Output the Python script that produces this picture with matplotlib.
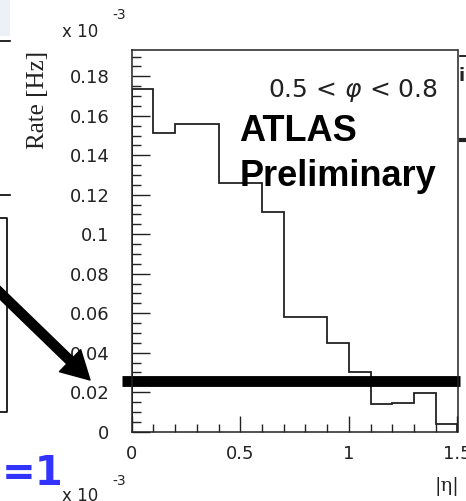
import matplotlib
matplotlib.use("Agg")
import matplotlib.pyplot as plt
from matplotlib.lines import Line2D
from matplotlib.patches import Rectangle
from matplotlib.ticker import MultipleLocator

# rate per |eta| bin, in units of 1e-3 Hz
eta_edges = [0.0, 0.1, 0.2, 0.3, 0.4, 0.5, 0.6, 0.7, 0.8, 0.9, 1.0, 1.1, 1.2, 1.3, 1.4, 1.5]
rate = [0.1734, 0.1511, 0.1558, 0.1558, 0.1258, 0.1258, 0.1113, 0.0583, 0.0583,
        0.0448, 0.0302, 0.0142, 0.0145, 0.0195, 0.0040]
threshold = 0.0257
xticks = [0, 0.5, 1, 1.5]
xticklabels = ["0", "0.5", "1", "1.5"]
yticks = [0, 0.02, 0.04, 0.06, 0.08, 0.1, 0.12, 0.14, 0.16, 0.18]
yticklabels = ["0", "0.02", "0.04", "0.06", "0.08", "0.1", "0.12", "0.14", "0.16", "0.18"]

W, H = 466, 501


def fx(px):
    return px / W


def fy(py):
    return 1 - py / H


fig = plt.figure(figsize=(W / 100, H / 100), dpi=100)
ax = fig.add_axes([fx(131.7), fy(431.7), (457.5 - 131.7) / W, (431.7 - 50) / H])

ax.stairs(rate, eta_edges, color="#222222", lw=1.3)

ax.set_xlim(0, 1.5)
ax.set_ylim(0, 0.1933)
ax.set_xticks(xticks)
ax.set_xticklabels(xticklabels)
ax.set_yticks(yticks)
ax.set_yticklabels(yticklabels)
ax.xaxis.set_minor_locator(MultipleLocator(0.1))
ax.yaxis.set_minor_locator(MultipleLocator(0.005))
ax.tick_params(axis="both", which="both", direction="in", width=1.0, color="#222222",
               labelsize=13, labelcolor="#222222")
ax.tick_params(axis="x", which="major", length=11.5, pad=9.5)
ax.tick_params(axis="x", which="minor", length=5.8)
ax.tick_params(axis="y", which="major", length=13, pad=16)
ax.tick_params(axis="y", which="minor", length=6.5)
for s in ax.spines.values():
    s.set_linewidth(1.1)
    s.set_color("#222222")

# thick threshold line
ax.plot([-0.046, 1.51], [threshold, threshold], color="black", lw=7.8,
        solid_capstyle="butt", clip_on=False)

# texts inside the pad
fig.text(fx(268), fy(97), "0.5 < $\\varphi$ < 0.8", fontsize=18, color="#222222",
         va="baseline", ha="left")
fig.text(fx(239), fy(141), "ATLAS", fontsize=26, fontweight="bold",
         family="Liberation Sans", va="baseline", ha="left")
fig.text(fx(240), fy(186), "Preliminary", fontsize=26, fontweight="bold",
         family="Liberation Sans", va="baseline", ha="left")

# axis titles / exponent
fig.text(fx(38), fy(100), "Rate [Hz]", rotation=90, fontsize=18, family="Liberation Serif",
         ha="center", va="center", color="#222222")
fig.text(fx(62), fy(37), "x 10", fontsize=12, ha="left", va="baseline", color="#222222")
fig.text(fx(112), fy(19), "-3", fontsize=10, ha="left", va="baseline", color="#222222")
fig.text(fx(62), fy(501), "x 10", fontsize=12, ha="left", va="baseline", color="#222222")
fig.text(fx(112), fy(485), "-3", fontsize=10, ha="left", va="baseline", color="#222222")
fig.text(fx(447), fy(487), "|η|", fontsize=14, family="DejaVu Serif", ha="center",
         va="center", color="#222222")

# blue "=1" from the neighbouring slide text
fig.text(fx(64), fy(485), "=1", fontsize=29, fontweight="bold", family="DejaVu Sans",
         color="#3333ff", ha="right", va="baseline")

# pieces of neighbouring boxes at the left edge
lk = dict(color="black", lw=1.2, transform=fig.transFigure)
fig.add_artist(Line2D([fx(0), fx(10)], [fy(40.7), fy(40.7)], **lk))
fig.add_artist(Line2D([fx(0), fx(10)], [fy(195), fy(195)], **lk))
fig.add_artist(Line2D([fx(0), fx(7.3), fx(7.3), fx(0)],
                      [fy(218), fy(218), fy(411.7), fy(411.7)], **lk))
fig.add_artist(Rectangle((0, fy(36)), fx(10), 1 - fy(36), transform=fig.transFigure,
                         color="#eef0f8", lw=0))

# glyph pieces of the neighbouring panel at the right edge
fig.add_artist(Line2D([fx(460), fx(466)], [fy(56), fy(56)], **lk))
fig.text(fx(459), fy(81), "i", fontsize=13, fontweight="bold", ha="left",
         va="baseline", color="#222222")
fig.add_artist(Line2D([fx(461), fx(466)], [fy(140), fy(140)], color="#222222", lw=3,
                      transform=fig.transFigure))

# arrow pointing to the threshold line
ax.annotate("", xy=(90, H - 380), xytext=(-6, H - 287), xycoords="figure pixels",
            textcoords="figure pixels",
            arrowprops=dict(arrowstyle="simple,head_length=1.0,head_width=1.1,tail_width=0.33",
                            color="black", mutation_scale=20, shrinkA=0, shrinkB=0))

fig.savefig("out.png", dpi=100)
